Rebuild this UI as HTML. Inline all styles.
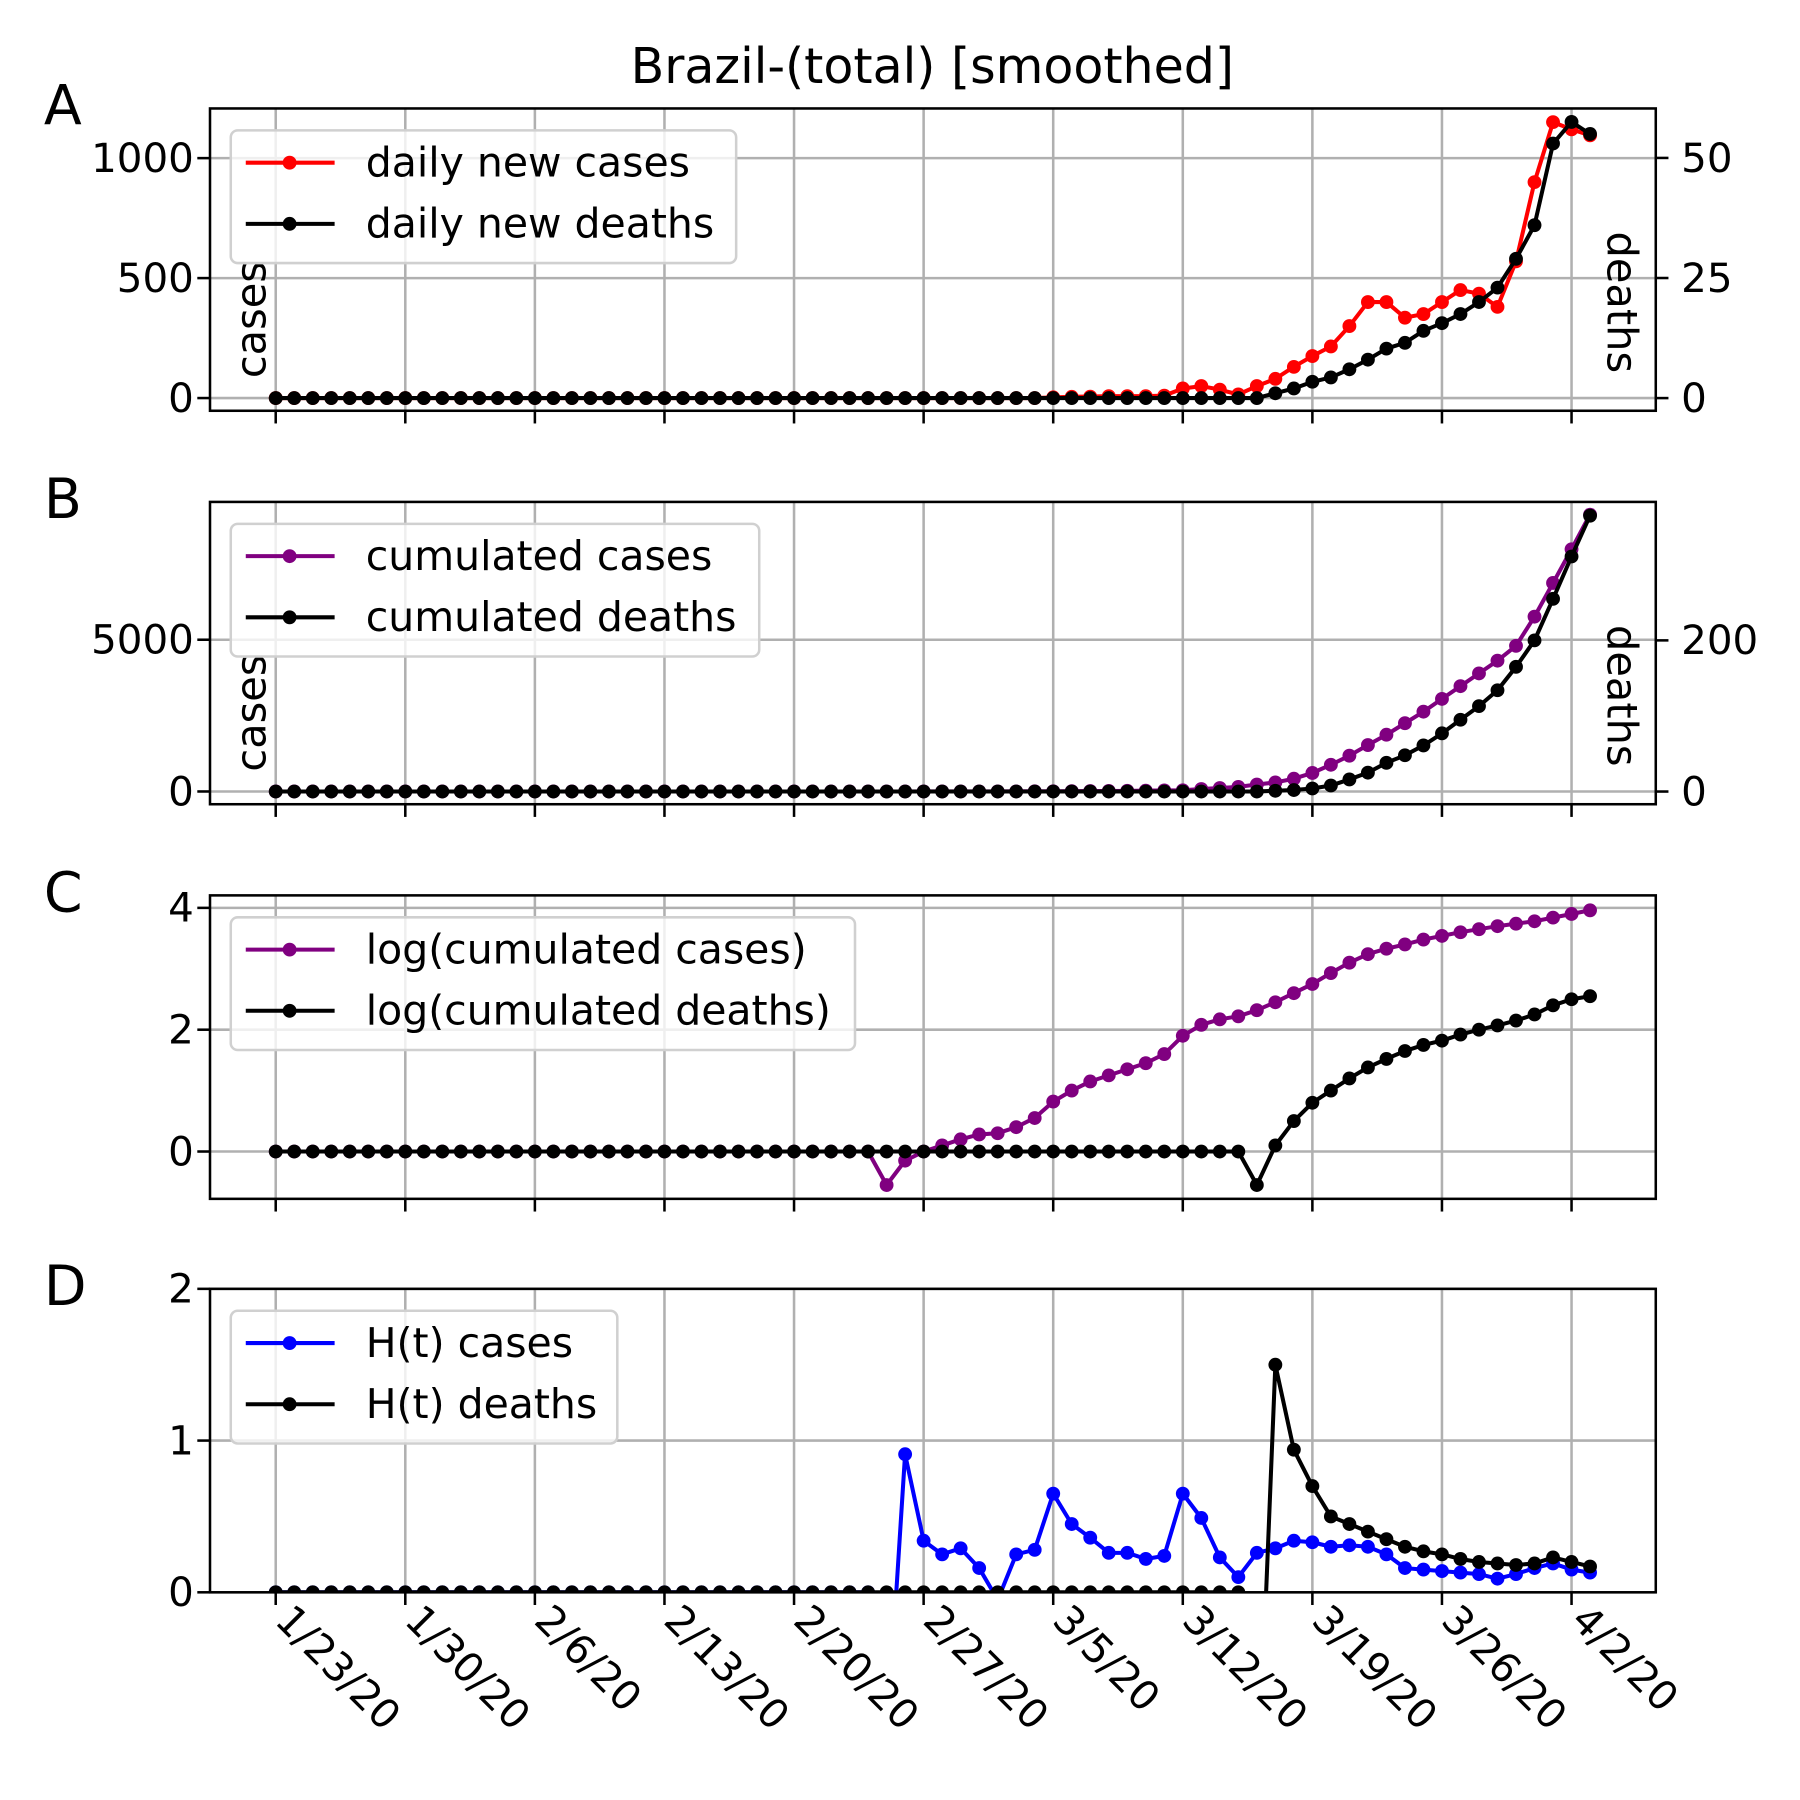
<!DOCTYPE html>
<html><head><meta charset="utf-8"><style>
html,body{margin:0;padding:0;background:#fff;}
svg{display:block;}
text{font-family:"DejaVu Sans","Liberation Sans",sans-serif;}
</style></head><body>
<svg id="fig" width="1800" height="1800" viewBox="0 0 1560 1560" xmlns="http://www.w3.org/2000/svg">
<rect width="1560" height="1560" fill="#fff"/>
<text x="808" y="72" font-size="42.5" text-anchor="middle">Brazil-(total) [smoothed]</text>
</svg>
<script>
const xTickLabels = ["1/23/20","1/30/20","2/6/20","2/13/20","2/20/20","2/27/20","3/5/20","3/12/20","3/19/20","3/26/20","4/2/20"];
const xTickDays = [0,7,14,21,28,35,42,49,56,63,70];
function z(n){return new Array(n).fill(0);}
const dailyCases = z(42).concat([3,5,6,8,8,8,10,40,50,35,15,50,80,130,175,215,300,400,400,335,350,400,450,435,380,570,900,1150,1120,1095]);
const dailyDeaths = z(53).concat([0,1,2,3.4,4.3,6,8,10.3,11.5,14,15.6,17.5,20,23,29,36,53,57.5,55]);
const cumCases = z(35).concat([1,2,2,3,3,4,5,7,10,14,18,22,28,35,40,80,115,150,230,300,420,610,880,1180,1530,1870,2250,2630,3050,3470,3890,4310,4800,5760,6870,7980,9120]);
const cumDeaths = z(54).concat([1,2,4,8,16,25,38,48,61,77,95,113,134,165,200,255,311,365]);
const logCases = z(33).concat([-0.55,-0.15,0,0.1,0.2,0.28,0.3,0.4,0.55,0.82,1.0,1.15,1.25,1.35,1.45,1.6,1.9,2.08,2.17,2.22,2.32,2.45,2.6,2.75,2.93,3.1,3.24,3.33,3.4,3.48,3.54,3.6,3.65,3.7,3.74,3.78,3.84,3.9,3.96]);
const logDeaths = z(53).concat([-0.55,0.1,0.5,0.8,1.0,1.2,1.38,1.52,1.65,1.75,1.82,1.92,2.0,2.07,2.15,2.25,2.4,2.5,2.55]);
const hCases = z(33).concat([-1.0,0.91,0.34,0.25,0.29,0.16,-0.05,0.25,0.28,0.65,0.45,0.36,0.26,0.26,0.22,0.24,0.65,0.49,0.23,0.1,0.26,0.29,0.34,0.33,0.3,0.31,0.3,0.25,0.16,0.15,0.14,0.13,0.12,0.09,0.12,0.16,0.19,0.15,0.13]);
const hDeaths = z(53).concat([-1.5,1.5,0.94,0.7,0.5,0.45,0.4,0.35,0.3,0.27,0.25,0.22,0.2,0.19,0.18,0.19,0.23,0.2,0.17]);

const NS="http://www.w3.org/2000/svg";
const svg=document.getElementById('fig');
const L=182,R=1435;
const xmin=-3.55,xmax=74.55;
function xs(d){return L+(d-xmin)/(xmax-xmin)*(R-L);}
function mk(tag,attrs,parent){const e=document.createElementNS(NS,tag);for(const k in attrs)e.setAttribute(k,attrs[k]);(parent||svg).appendChild(e);return e;}

const panels=[
 {id:'a',letter:'A',top:94,bot:356,ylim:[-53,1207],ticks:[0,500,1000],r:{ylim:[-2.64,60.3],ticks:[0,25,50]},
  s:[{d:dailyCases,c:'#ff0000',ax:'l',lab:'daily new cases'},{d:dailyDeaths,c:'#000',ax:'r',lab:'daily new deaths'}],leg:438,yl:true},
 {id:'b',letter:'B',top:435,bot:697,ylim:[-420,9540],ticks:[0,5000],r:{ylim:[-16.8,383.2],ticks:[0,200]},
  s:[{d:cumCases,c:'#800080',ax:'l',lab:'cumulated cases'},{d:cumDeaths,c:'#000',ax:'r',lab:'cumulated deaths'}],leg:458,yl:true},
 {id:'c',letter:'C',top:776,bot:1039,ylim:[-0.777,4.205],ticks:[0,2,4],
  s:[{d:logCases,c:'#800080',ax:'l',lab:'log(cumulated cases)'},{d:logDeaths,c:'#000',ax:'l',lab:'log(cumulated deaths)'}],leg:541},
 {id:'d',letter:'D',top:1117,bot:1380,ylim:[0,2],ticks:[0,1,2],
  s:[{d:hCases,c:'#0000ff',ax:'l',lab:'H(t) cases'},{d:hDeaths,c:'#000',ax:'l',lab:'H(t) deaths'}],leg:335}
];

panels.forEach((p,pi)=>{
  const g=mk('g',{});
  
  
  const ys=v=>p.bot-(v-p.ylim[0])/(p.ylim[1]-p.ylim[0])*(p.bot-p.top);
  const yr=p.r?(v=>p.bot-(v-p.r.ylim[0])/(p.r.ylim[1]-p.r.ylim[0])*(p.bot-p.top)):null;
  const cid='clip'+p.id;
  const cp=mk('clipPath',{id:cid},g);mk('rect',{x:L,y:p.top,width:R-L,height:p.bot-p.top},cp);
  xTickDays.forEach(d=>{const l=mk('line',{x1:xs(d),x2:xs(d),y1:p.top,y2:p.bot,stroke:'#b0b0b0','stroke-width':2.2},g);});
  p.ticks.forEach(t=>{const l=mk('line',{x1:L,x2:R,y1:ys(t),y2:ys(t),stroke:'#b0b0b0','stroke-width':2.2},g);});
  p.s.forEach((s,si)=>{
    const f=s.ax==='r'?yr:ys;
    const sg=mk('g',{'clip-path':'url(#'+cid+')'},g);
    
    
    const pts=s.d.map((v,i)=>xs(i).toFixed(1)+','+f(v).toFixed(1)).join(' ');
    const pl=mk('polyline',{points:pts,fill:'none',stroke:s.c,'stroke-width':3.5,'stroke-linejoin':'round'},sg);
    
    
    s.d.forEach((v,i)=>{const c=mk('circle',{cx:xs(i),cy:f(v),r:6,fill:s.c},sg);});
  });
  const sp=mk('rect',{x:L,y:p.top,width:R-L,height:p.bot-p.top,fill:'none',stroke:'#000','stroke-width':2.2},g);
  
  xTickDays.forEach((d,i)=>{
    const t=mk('line',{x1:xs(d),x2:xs(d),y1:p.bot,y2:p.bot+11,stroke:'#000','stroke-width':2.2},g);
    
    if(pi===3){const tx=mk('text',{x:0,y:0,'font-size':35,transform:`translate(${xs(d)-2},${p.bot+26}) rotate(45)`},g);tx.textContent=xTickLabels[i];
      }
  });
  p.ticks.forEach(t=>{
    const l=mk('line',{x1:L-11,x2:L,y1:ys(t),y2:ys(t),stroke:'#000','stroke-width':2.2},g);
    
    const tx=mk('text',{x:L-14,y:ys(t)+12,'font-size':35,'text-anchor':'end'},g);tx.textContent=String(t);
    
  });
  if(p.r){p.r.ticks.forEach(t=>{
    const l=mk('line',{x1:R,x2:R+11,y1:yr(t),y2:yr(t),stroke:'#000','stroke-width':2.2},g);
    
    const tx=mk('text',{x:R+22,y:yr(t)+12,'font-size':35},g);tx.textContent=String(t);
    
  });}
  if(p.yl){
    const mid=(p.top+p.bot)/2;
    const a=mk('text',{x:0,y:0,'font-size':36,'text-anchor':'middle',transform:`translate(230,${mid+52}) rotate(-90)`},g);a.textContent='cases';
    
    const b=mk('text',{x:0,y:0,'font-size':36,'text-anchor':'middle',transform:`translate(1393,${mid+37}) rotate(90)`},g);b.textContent='deaths';
    
  }
  const pl=mk('text',{x:38,y:p.top+14,'font-size':48},g);pl.textContent=p.letter;
  
  const lg=mk('g',{},g);
  mk('rect',{x:200,y:p.top+19,width:p.leg,height:115,rx:6,fill:'#fff','fill-opacity':0.8,stroke:'#d0d0d0','stroke-width':2.2},lg);
  p.s.forEach((s,si)=>{
    const y=p.top+47+si*53;
    const e=mk('g',{},lg);
    mk('line',{x1:213,x2:290,y1:y,y2:y,stroke:s.c,'stroke-width':3.5},e);
    mk('circle',{cx:251,cy:y,r:6,fill:s.c},e);
    const t=mk('text',{x:317,y:y+12,'font-size':35.5},e);t.textContent=s.lab;
  });
});
</script>
</body></html>
